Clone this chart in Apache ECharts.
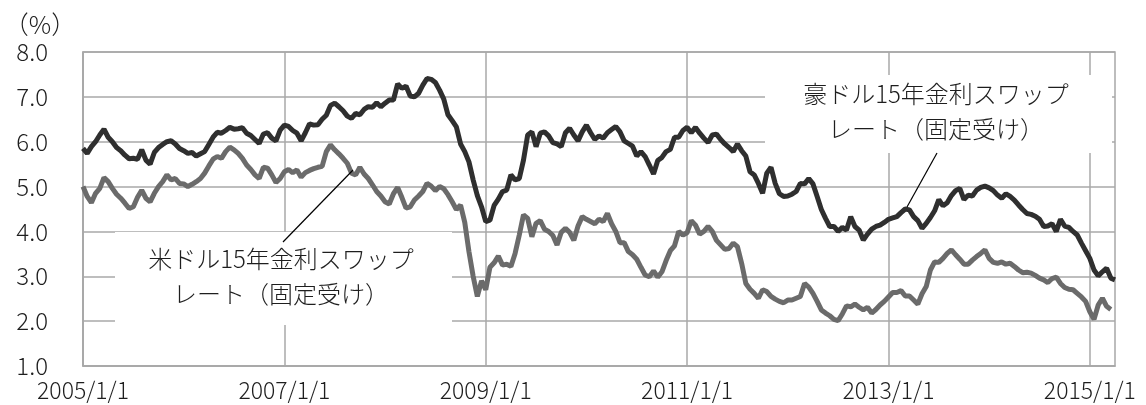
<!DOCTYPE html>
<html>
<head>
<meta charset="utf-8">
<script src="https://cdn.jsdelivr.net/npm/echarts@6/dist/echarts.min.js"></script>
<style>
html,body{margin:0;padding:0;background:#fff;}
#chart{width:1146px;height:405px;}
</style>
</head>
<body>
<div id="chart"></div>
<script>
// Half-monthly observation dates, 2005/1/1 .. 2015/4/1
const categories = [];
(function(){
  for (let y = 2005; y <= 2015; y++) {
    for (let m = 1; m <= 12; m++) {
      for (const d of [1, 16]) {
        if (categories.length < 247) categories.push(y + '/' + m + '/' + d);
      }
    }
  }
})();

const xTickLabels = ['2005/1/1', '2007/1/1', '2009/1/1', '2011/1/1', '2013/1/1', '2015/1/1'];
const yTicks = [1, 2, 3, 4, 5, 6, 7, 8];

const seriesNames = ['豪ドル15年金利スワップレート（固定受け）', '米ドル15年金利スワップレート（固定受け）'];

const audSwap15y = [
  5.85, 5.74, 5.89, 6.00, 6.15, 6.28, 6.10, 6.00, 5.87, 5.80,
  5.70, 5.62, 5.63, 5.61, 5.82, 5.59, 5.50, 5.76, 5.87, 5.94,
  6.00, 6.02, 5.95, 5.85, 5.80, 5.74, 5.76, 5.68, 5.73, 5.78,
  5.94, 6.10, 6.21, 6.19, 6.25, 6.32, 6.28, 6.29, 6.31, 6.19,
  6.14, 6.05, 5.96, 6.17, 6.20, 6.08, 6.02, 6.26, 6.37,
  6.34, 6.25, 6.19, 6.02, 6.20, 6.40, 6.37, 6.38, 6.50, 6.59,
  6.81, 6.86, 6.78, 6.69, 6.57, 6.52, 6.63, 6.60, 6.72, 6.78,
  6.77, 6.87, 6.78, 6.86, 6.93, 6.93, 7.29, 7.19, 7.24, 7.02,
  7.00, 7.08, 7.26, 7.41, 7.39, 7.32, 7.15, 6.95, 6.60, 6.47,
  6.33, 5.95, 5.78, 5.55, 5.15, 4.80, 4.55, 4.22, 4.25, 4.58,
  4.72, 4.89, 4.92, 5.26, 5.15, 5.18, 5.59, 6.15, 6.22, 5.89,
  6.19, 6.22, 6.13, 5.98, 5.95, 5.89, 6.20, 6.30, 6.15, 6.02,
  6.22, 6.37, 6.20, 6.05, 6.13, 6.08, 6.20, 6.27, 6.34, 6.22,
  6.02, 5.96, 5.90, 5.68, 5.78, 5.67, 5.48, 5.28, 5.58, 5.65,
  5.78, 5.83, 6.10, 6.10, 6.25, 6.32, 6.20, 6.32, 6.19, 6.08,
  5.98, 6.15, 6.17, 6.05, 5.95, 5.87, 5.78, 5.95, 5.80, 5.68,
  5.33, 5.26, 5.07, 4.85, 5.30, 5.43, 5.07, 4.84, 4.78, 4.79,
  4.83, 4.89, 5.07, 5.06, 5.18, 5.06, 4.78, 4.49, 4.29, 4.11,
  4.11, 4.00, 4.09, 4.03, 4.33, 4.11, 4.03, 3.81, 3.94, 4.05,
  4.11, 4.14, 4.20, 4.27, 4.30, 4.33, 4.42, 4.50, 4.48, 4.33,
  4.24, 4.07, 4.18, 4.31, 4.46, 4.71, 4.57, 4.64, 4.80, 4.91,
  4.96, 4.71, 4.81, 4.79, 4.92, 4.98, 5.01, 4.97, 4.91, 4.81,
  4.74, 4.84, 4.78, 4.70, 4.59, 4.49, 4.40, 4.38, 4.34, 4.27,
  4.11, 4.12, 4.17, 4.00, 4.27, 4.12, 4.09, 4.00, 3.92, 3.74,
  3.57, 3.40, 3.14, 3.01, 3.10, 3.18, 2.96, 2.92
];

const usdSwap15y = [
  5.00, 4.78, 4.64, 4.85, 4.96, 5.20, 5.11, 4.96, 4.83, 4.74,
  4.63, 4.51, 4.55, 4.76, 4.92, 4.74, 4.66, 4.85, 5.00, 5.11,
  5.26, 5.15, 5.18, 5.07, 5.06, 5.00, 5.05, 5.11, 5.18, 5.30,
  5.46, 5.61, 5.67, 5.63, 5.78, 5.88, 5.82, 5.74, 5.63, 5.48,
  5.38, 5.26, 5.18, 5.43, 5.41, 5.26, 5.09, 5.18, 5.33,
  5.38, 5.31, 5.37, 5.21, 5.31, 5.36, 5.40, 5.43, 5.45, 5.78,
  5.93, 5.82, 5.73, 5.63, 5.52, 5.30, 5.26, 5.43, 5.28, 5.18,
  5.04, 4.89, 4.79, 4.66, 4.61, 4.84, 4.98, 4.76, 4.52, 4.55,
  4.70, 4.79, 4.89, 5.07, 5.01, 4.91, 5.00, 4.95, 4.82, 4.66,
  4.49, 4.59, 4.20, 3.55, 3.00, 2.55, 2.90, 2.70, 3.20, 3.30,
  3.45, 3.25, 3.27, 3.22, 3.51, 3.92, 4.37, 4.29, 3.88,
  4.18, 4.24, 4.05, 4.00, 3.91, 3.70, 3.98, 4.07, 3.98, 3.80,
  4.12, 4.33, 4.27, 4.22, 4.17, 4.27, 4.22, 4.40, 4.17, 4.00,
  3.75, 3.75, 3.55, 3.48, 3.38, 3.20, 3.03, 2.99, 3.12, 2.98,
  3.10, 3.35, 3.57, 3.68, 4.00, 3.92, 3.97, 4.24, 4.14, 3.94,
  4.00, 4.11, 4.00, 3.80, 3.70, 3.60, 3.62, 3.74, 3.66, 3.29,
  2.84, 2.71, 2.62, 2.51, 2.70, 2.66, 2.55, 2.49, 2.44, 2.41,
  2.47, 2.47, 2.51, 2.55, 2.84, 2.76, 2.62, 2.44, 2.25, 2.18,
  2.12, 2.04, 2.01, 2.16, 2.34, 2.32, 2.38, 2.31, 2.25, 2.31,
  2.18, 2.26, 2.36, 2.44, 2.54, 2.64, 2.64, 2.68, 2.56, 2.56,
  2.47, 2.38, 2.61, 2.77, 3.14, 3.32, 3.31, 3.40, 3.51, 3.59,
  3.48, 3.38, 3.27, 3.27, 3.36, 3.44, 3.51, 3.59, 3.40, 3.31,
  3.29, 3.32, 3.27, 3.29, 3.22, 3.14, 3.08, 3.09, 3.07, 3.02,
  2.96, 2.92, 2.86, 2.95, 2.98, 2.84, 2.75, 2.71, 2.70, 2.62,
  2.54, 2.44, 2.21, 2.04, 2.36, 2.51, 2.33, 2.26
];

const FONT = '"Noto Sans CJK JP", "Noto Sans", sans-serif';
const WEIGHT = 300;
const GRID_COLOR = '#a8a8a8';
const TEXT_COLOR = '#1e1e1e';

const chart = echarts.init(document.getElementById('chart'), null, {renderer: 'canvas'});
const isMajor = (i) => xTickLabels.indexOf(categories[i]) !== -1;

chart.setOption({
  animation: false,
  backgroundColor: '#fff',
  grid: {left: 83, right: 31, top: 52, bottom: 39, show: true, borderColor: GRID_COLOR, borderWidth: 1.5},
  xAxis: {
    type: 'category',
    data: categories,
    boundaryGap: false,
    axisLine: {show: true, lineStyle: {color: GRID_COLOR, width: 1.5}},
    axisTick: {show: false},
    axisLabel: {interval: (i) => isMajor(i), color: TEXT_COLOR, fontSize: 23, fontWeight: WEIGHT, fontFamily: FONT, margin: 13},
    splitLine: {show: true, interval: (i) => isMajor(i), lineStyle: {color: GRID_COLOR, width: 1.5}}
  },
  yAxis: {
    type: 'value',
    min: yTicks[0], max: yTicks[yTicks.length - 1], interval: 1,
    axisLine: {show: true, lineStyle: {color: GRID_COLOR, width: 1.5}},
    axisTick: {show: false},
    axisLabel: {formatter: (v) => v.toFixed(1), color: TEXT_COLOR, fontSize: 24, fontWeight: WEIGHT, fontFamily: FONT, margin: 35},
    splitLine: {show: true, lineStyle: {color: GRID_COLOR, width: 1.5}}
  },
  series: [
    {name: seriesNames[0], type: 'line', data: audSwap15y, showSymbol: false, lineStyle: {color: '#2f2f2f', width: 5}, itemStyle: {color: '#2f2f2f'}, z: 3},
    {name: seriesNames[1], type: 'line', data: usdSwap15y, showSymbol: false, lineStyle: {color: '#6b6b6b', width: 5}, itemStyle: {color: '#6b6b6b'}, z: 2}
  ],
  graphic: [
    {type: 'text', z: 100, style: {text: '（%）', x: 40, y: 24, align: 'center', verticalAlign: 'middle', fontSize: 25, fontWeight: WEIGHT, fontFamily: FONT, fill: TEXT_COLOR}},
    {type: 'rect', z: 90, shape: {x: 115, y: 232, width: 337, height: 93}, style: {fill: '#fff'}},
    {type: 'text', z: 100, style: {text: '米ドル15年金利スワップ\nレート（固定受け）', x: 281, y: 276, align: 'center', verticalAlign: 'middle', fontSize: 24, fontWeight: WEIGHT, lineHeight: 35, fontFamily: FONT, fill: TEXT_COLOR}},
    {type: 'line', z: 100, shape: {x1: 283, y1: 242, x2: 353, y2: 170}, style: {stroke: '#000', lineWidth: 1.2}},
    {type: 'rect', z: 90, shape: {x: 765, y: 75, width: 347, height: 78}, style: {fill: '#fff'}},
    {type: 'text', z: 100, style: {text: '豪ドル15年金利スワップ\nレート（固定受け）', x: 936, y: 111, align: 'center', verticalAlign: 'middle', fontSize: 24, fontWeight: WEIGHT, lineHeight: 35, fontFamily: FONT, fill: TEXT_COLOR}},
    {type: 'line', z: 100, shape: {x1: 937, y1: 153, x2: 907, y2: 207}, style: {stroke: '#000', lineWidth: 1.2}}
  ]
});
</script>
</body>
</html>
